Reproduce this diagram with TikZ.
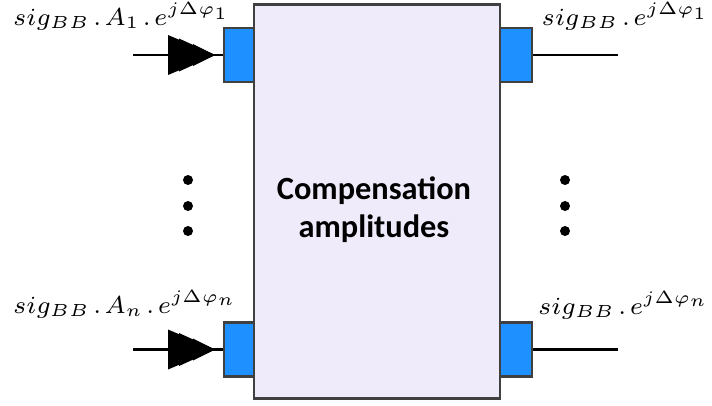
\documentclass[tikz,border=0pt]{standalone}
\usepackage{fontspec}
\newfontfamily\boxfont{Carlito}
\usetikzlibrary{positioning}
\definecolor{boxfill}{RGB}{239,235,251}
\definecolor{portblue}{RGB}{30,144,255}
\definecolor{edgegray}{RGB}{64,64,64}
\newcommand{\sdot}{\mkern2mu.\mkern2mu}
\tikzset{
  port/.style={draw=edgegray, fill=portblue, line width=0.6pt, minimum width=0.3cm, minimum height=0.54cm, inner sep=0pt},
  sig/.style={font=\fontsize{7.2}{9}\selectfont, inner sep=0pt, anchor=base west},
  sigr/.style={sig, anchor=base east},
}
\begin{document}
\begin{tikzpicture}[x=0.01cm,y=-0.01cm,line width=0.6pt]
  \useasboundingbox[fill=white] (0,0) rectangle (712,405);
  % compensation block
  \node[draw=edgegray, fill=boxfill, line width=0.8pt, minimum width=2.46cm, minimum height=3.93cm, inner sep=0pt] (comp) at (377,201.5) {};
  \node[font=\boxfont\bfseries\fontsize{9.2}{10.8}\selectfont, align=center] (complbl) at (374,210) {Compensation\\amplitudes};
  % ports
  \node[port] (pinA) at (239,55) {};
  \node[port] (pinN) at (239,349.5) {};
  \node[port, minimum width=0.32cm] (poutA) at (516,55) {};
  \node[port, minimum width=0.32cm] (poutN) at (516,349.5) {};
  % wires
  \coordinate (inA) at (133,55);
  \coordinate (inN) at (133,349.5);
  \coordinate (outA) at (618,55);
  \coordinate (outN) at (618,349.5);
  \draw (inA) -- (pinA.west);
  \draw (inN) -- (pinN.west);
  \draw (poutA.east) -- (outA);
  \draw (poutN.east) -- (outN);
  % stepped arrowheads
  \foreach \y in {55,349.5}{
    \fill (168,\y-20) -- (215,\y) -- (168,\y+20) -- cycle;
    \fill (179,\y-16.5) -- (215,\y) -- (179,\y+16.5) -- cycle;
    \fill (193,\y-11) -- (215,\y) -- (193,\y+11) -- cycle;
  }
  % dots
  \foreach \x in {188,565}
    \foreach \y in {180,206,231}
      \fill (\x,\y) circle[radius=0.05cm];
  % labels
  \node[sig] (labA) at (12,25) {$sig_{BB}\sdot A_1\sdot e^{j\Delta\varphi_1}$};
  \node[sig] (labN) at (12,313) {$sig_{BB}\sdot A_n\sdot e^{j\Delta\varphi_n}$};
  \node[sigr] (labOA) at (710,25) {$sig_{BB}\sdot e^{j\Delta\varphi_1}$};
  \node[sigr] (labON) at (710,314) {$sig_{BB}\sdot e^{j\Delta\varphi_n}$};
\end{tikzpicture}
\end{document}
